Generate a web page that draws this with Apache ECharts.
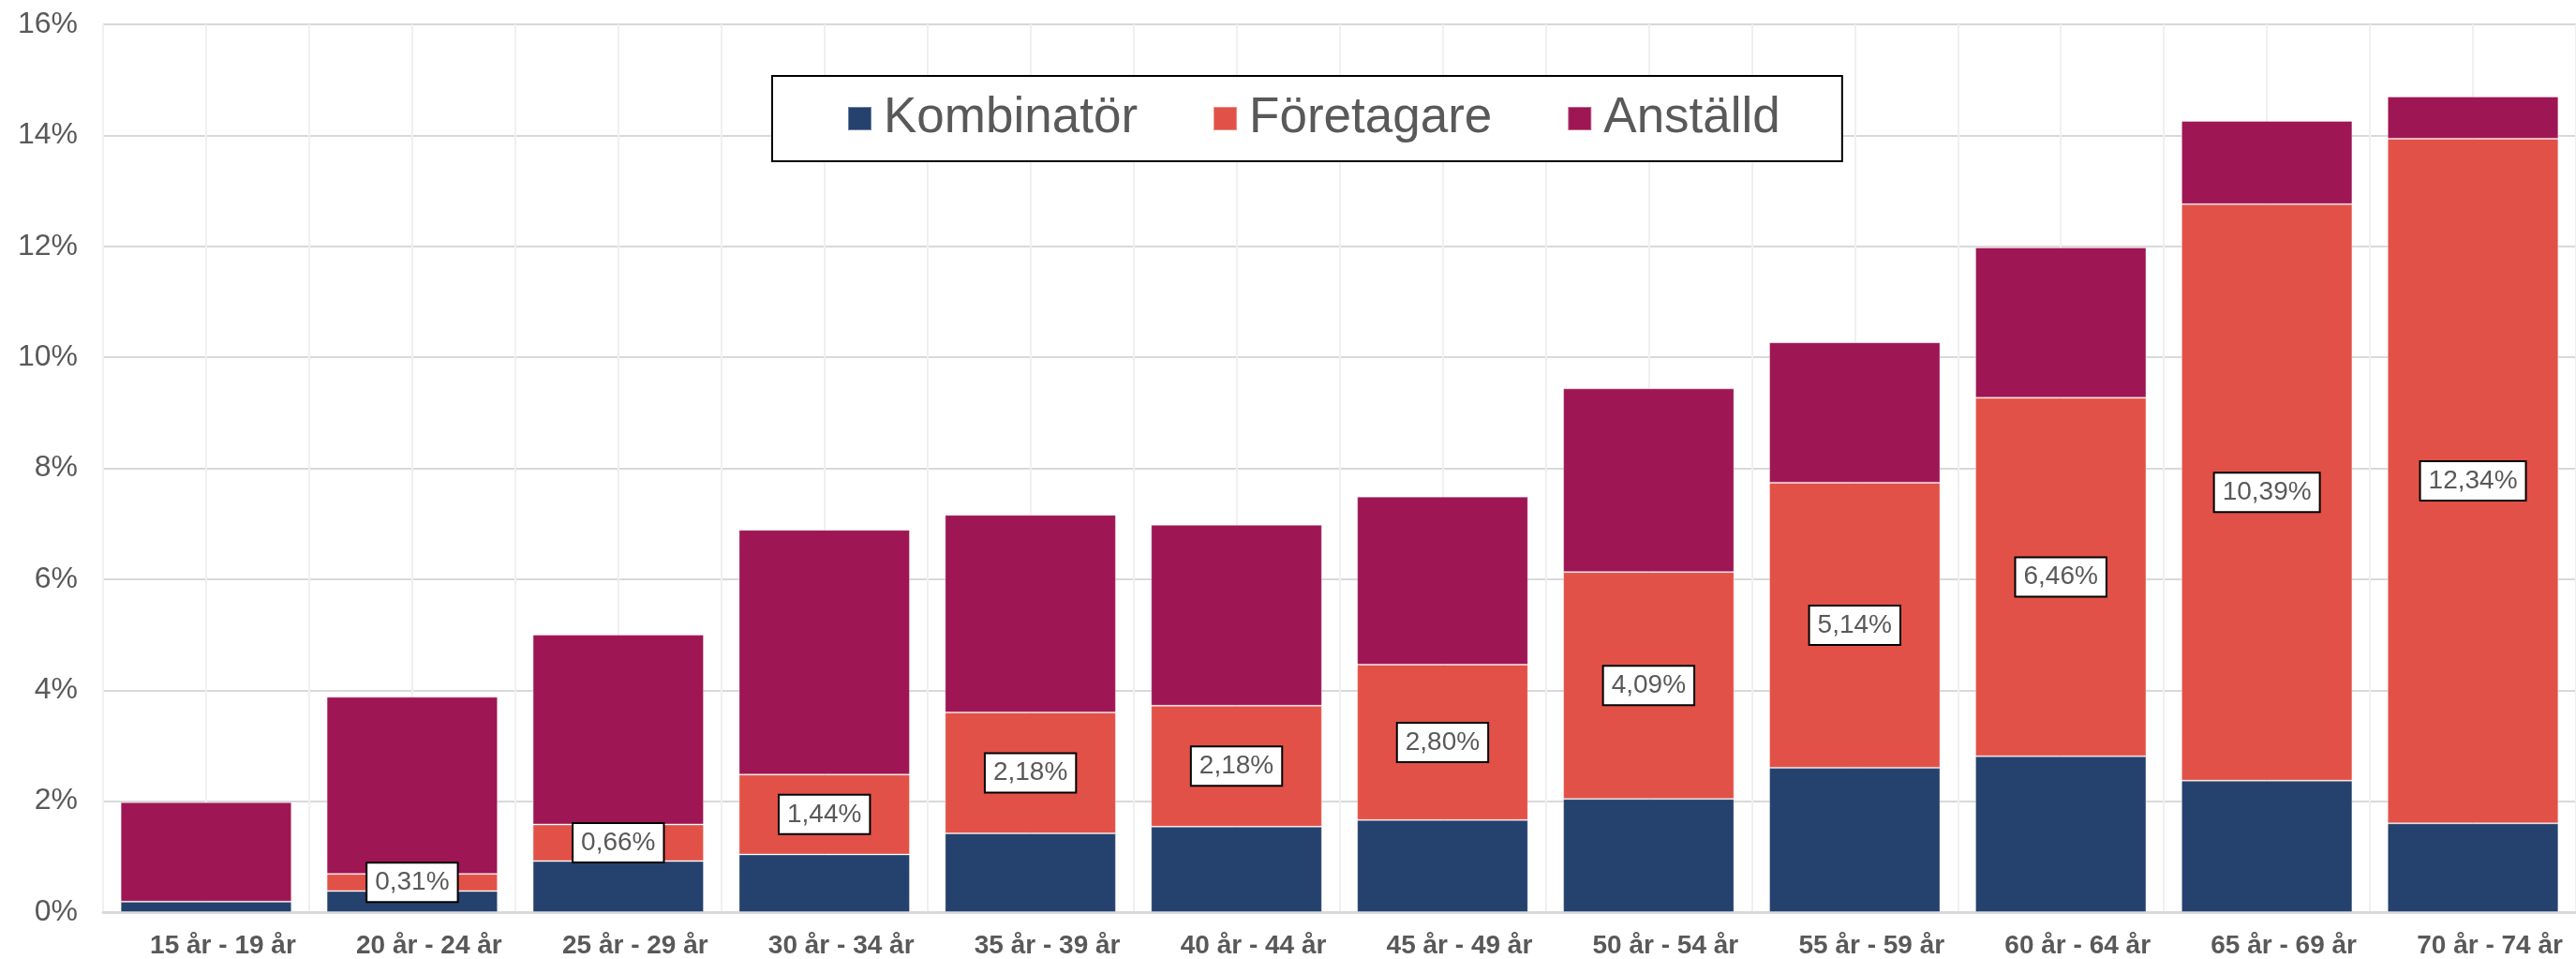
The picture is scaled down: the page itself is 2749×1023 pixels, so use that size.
<!DOCTYPE html>
<html>
<head>
<meta charset="utf-8">
<script src="https://cdn.jsdelivr.net/npm/echarts@6/dist/echarts.min.js"></script>
<style>
    html, body { margin: 0; padding: 0; background: #fff; }
    #chart { width: 2749px; height: 1023px; }
</style>
</head>
<body>
<div id="chart"></div>
<script>
    // åldersgrupper
    var categories = ['15 år - 19 år', '20 år - 24 år', '25 år - 29 år', '30 år - 34 år', '35 år - 39 år', '40 år - 44 år',
        '45 år - 49 år', '50 år - 54 år', '55 år - 59 år', '60 år - 64 år', '65 år - 69 år', '70 år - 74 år']
    // andel i procent
    var kombinator = [0.19, 0.38, 0.92, 1.04, 1.42, 1.54, 1.66, 2.04, 2.60, 2.81, 2.37, 1.60]
    var foretagare = [0, 0.31, 0.66, 1.44, 2.18, 2.18, 2.80, 4.09, 5.14, 6.46, 10.39, 12.34]
    var anstalld = [1.79, 3.19, 3.42, 4.41, 3.56, 3.26, 3.03, 3.31, 2.53, 2.71, 1.50, 0.76]
    var yTicks = [0, 2, 4, 6, 8, 10, 12, 14, 16]

    var textGray = '#595959'
    var font = 'Arial, "Liberation Sans", sans-serif'

    let chartDom = document.getElementById('chart')
    let myChart = echarts.init(chartDom)

    // etiketter bara där värdet finns
    let foretagareData = foretagare.map(function (v) {
        return v > 0 ? v : { value: v, label: { show: false } }
    })

    myChart.setOption({
        animation: false,
        textStyle: { fontFamily: font },
        legend: {
            data: ['Kombinatör', 'Företagare', 'Anställd'],
            left: 824,
            top: 81,
            padding: [19, 66, 19, 80],
            itemGap: 80,
            itemWidth: 25,
            itemHeight: 25,
            borderColor: '#000',
            borderWidth: 2,
            backgroundColor: '#fff',
            icon: 'rect',
            textStyle: {
                fontSize: 53,
                color: textGray,
                fontFamily: font,
                padding: [0, 0, 0, 8]
            }
        },
        grid: {
            left: 110,
            top: 26,
            width: 2643,
            height: 949
        },
        xAxis: [
            {
                type: 'category',
                data: categories,
                axisLine: { lineStyle: { color: '#d9d9d9', width: 3 } },
                axisTick: { show: false },
                axisLabel: {
                    color: textGray,
                    fontSize: 28,
                    fontWeight: 'bold',
                    margin: 22,
                    padding: [0, 0, 0, 36],
                    fontFamily: font
                },
                splitLine: { show: false }
            },
            {
                // bara för de lodräta stödlinjerna
                type: 'value',
                min: 0,
                max: 24,
                interval: 1,
                position: 'top',
                axisLine: { show: false },
                axisTick: { show: false },
                axisLabel: { show: false },
                splitLine: { show: true, lineStyle: { color: '#f0f0f0', width: 2 } }
            }
        ],
        yAxis: {
            type: 'value',
            min: yTicks[0],
            max: yTicks[yTicks.length - 1],
            interval: 2,
            axisLine: { show: false },
            axisTick: { show: false },
            axisLabel: {
                formatter: '{value}%',
                color: textGray,
                fontSize: 32,
                margin: 27,
                fontFamily: font
            },
            splitLine: { lineStyle: { color: '#d9d9d9', width: 2 } }
        },
        series: [
            {
                name: 'Kombinatör',
                type: 'bar',
                stack: 'total',
                barCategoryGap: '17%',
                data: kombinator,
                itemStyle: { color: '#25416d', borderColor: 'rgba(255,255,255,0.35)', borderWidth: 1 }
            },
            {
                name: 'Företagare',
                type: 'bar',
                stack: 'total',
                data: foretagareData,
                itemStyle: { color: '#e25147', borderColor: 'rgba(255,255,255,0.35)', borderWidth: 1 },
                label: {
                    show: true,
                    position: 'inside',
                    formatter: function (p) {
                        return p.value.toFixed(2).replace('.', ',') + '%'
                    },
                    color: textGray,
                    fontSize: 28,
                    lineHeight: 30,
                    fontFamily: font,
                    backgroundColor: '#fff',
                    borderColor: '#000',
                    borderWidth: 2,
                    padding: [5, 8]
                }
            },
            {
                name: 'Anställd',
                type: 'bar',
                stack: 'total',
                data: anstalld,
                itemStyle: { color: '#9e1654', borderColor: 'rgba(255,255,255,0.35)', borderWidth: 1 }
            }
        ]
    })
</script>
</body>
</html>
